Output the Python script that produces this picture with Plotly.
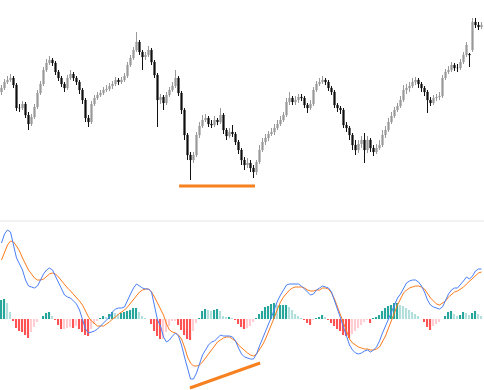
import plotly.graph_objects as go

# ---- price data (arbitrary price units) ----
opens = [108,112,118,120,122,115,92,92,96,85,76,83,93,107,116,130,137,140,137,128,
         122,116,112,122,126,122,118,110,100,82,78,96,102,105,107,110,111,114,116,120,
         118,120,124,135,142,150,158,148,143,145,150,138,125,100,103,97,105,110,114,122,
         107,90,65,45,40,45,65,74,80,82,76,75,80,78,85,70,64,68,66,58,
         50,40,35,37,32,28,38,50,58,62,66,68,72,76,80,85,98,102,98,100,
         103,102,95,92,96,110,116,118,120,118,112,108,95,92,90,75,72,65,55,50,
         56,60,50,60,52,48,52,55,65,70,78,84,90,94,100,110,112,114,118,120,
         116,112,108,100,97,102,103,104,122,128,130,135,132,132,138,145,146,150,178,175,173]
closes = [112,118,120,122,115,92,92,96,85,76,83,93,107,116,130,137,140,137,128,122,
          116,112,122,126,122,118,110,100,82,78,96,102,105,107,110,111,114,116,120,118,
          120,124,135,142,150,158,148,143,145,150,138,125,100,103,97,105,110,114,122,107,
          90,65,45,40,45,65,74,80,82,76,75,80,78,85,70,64,68,66,58,50,
          40,35,37,32,28,38,50,58,62,66,68,72,76,80,85,98,102,98,100,103,
          102,95,92,96,110,116,118,120,118,112,108,95,92,90,75,72,65,55,50,56,
          60,50,60,52,48,52,55,65,70,78,84,90,94,100,110,112,114,118,120,116,
          112,108,100,97,102,103,104,122,128,130,135,132,132,138,145,155,145,178,175,173,175]
highs = [115,121,124,126,124,117,96,99,98,88,86,96,110,119,133,141,144,142,139,130,
         124,118,125,130,128,124,120,112,102,85,99,105,108,110,113,115,117,119,123,122,
         123,127,138,145,153,168,160,150,148,154,152,140,127,106,105,108,113,118,130,124,
         109,92,67,48,48,68,78,85,86,84,80,84,82,92,87,72,72,75,68,60,
         52,43,42,40,35,40,55,62,66,69,72,76,80,84,88,102,108,104,104,106,
         106,104,97,100,113,119,122,124,122,120,114,110,97,94,92,78,74,67,60,60,
         64,67,64,62,55,56,60,70,74,82,88,93,97,104,115,116,118,122,123,122,
         118,114,110,103,105,106,108,125,131,134,138,137,136,141,148,158,147,182,182,178,178]
lows = [105,110,116,118,112,89,88,90,82,70,74,81,91,105,114,128,135,134,125,119,
        113,108,110,120,119,115,106,96,78,73,76,94,100,103,105,108,109,111,114,115,
        116,118,122,133,140,148,145,130,140,143,135,122,73,96,90,95,103,108,112,104,
        86,60,40,20,37,43,62,72,78,73,72,73,75,76,66,60,62,63,55,46,
        35,30,32,28,22,25,36,48,55,59,64,65,70,74,78,83,95,95,95,97,
        99,92,87,90,94,108,114,116,115,109,105,92,88,86,72,68,60,50,45,47,
        52,37,47,48,44,46,50,53,62,68,76,82,88,92,98,106,108,112,115,112,
        108,104,87,94,95,99,100,102,120,126,128,129,128,130,136,143,133,148,172,170,171]

# ---- MACD indicator values ----
macd = [76,85,89,87,74,61,55,49,39,33,32,31,33,39,45,49,51,49,43,37,
        30,24,22,21,18,15,9,0,-10,-14,-13,-12,-10,-7,-4,-1,2,7,10,11,
        11,12,19,25,31,35,33,31,30,30,27,13,-1,-7,-18,-23,-21,-17,-14,-17,
        -26,-38,-50,-60,-60,-54,-45,-36,-31,-26,-23,-22,-19,-16,-17,-17,-17,-18,-22,-29,
        -35,-38,-39,-40,-40,-35,-27,-19,-13,-5,2,11,18,24,29,34,35,35,35,35,
        33,30,27,24,25,29,31,33,32,31,27,19,10,1,-8,-17,-26,-31,-34,-35,
        -34,-32,-31,-33,-31,-28,-22,-14,-7,1,8,15,21,25,31,36,38,39,39,37,
        33,27,19,14,12,11,10,12,18,25,29,31,31,34,38,42,40,43,48,50,50]
signal = [59,67,74,78,77,73,68,61,55,49,45,41,39,39,40,43,45,46,45,42,
          38,35,31,28,25,22,18,14,8,2,-2,-5,-7,-7,-7,-5,-3,0,2,5,
          7,9,12,16,20,24,27,29,30,30,27,22,16,11,4,-5,-11,-13,-14,-16,
          -20,-28,-38,-44,-47,-47,-46,-43,-39,-35,-30,-26,-23,-21,-19,-18,-18,-20,-22,-26,
          -29,-32,-34,-36,-37,-35,-31,-26,-20,-13,-5,2,10,17,22,26,29,31,32,32,
          32,31,29,28,28,29,29,31,31,30,26,20,12,3,-6,-14,-20,-24,-26,-28,
          -29,-30,-30,-31,-31,-30,-28,-23,-17,-9,-1,6,14,20,26,29,31,32,33,33,
          32,30,25,21,18,15,14,16,18,22,25,27,28,30,32,35,38,41,44,46,47]
hist = [19,20,16,7,-2,-9,-12,-13,-16,-19,-13,-8,-3,0,3,6,7,3,-1,-6,
        -10,-10,-9,-8,-9,-7,-10,-13,-16,-17,-10,-5,-2,1,3,2,5,7,6,5,
        6,7,8,9,11,11,7,3,1,0,-5,-12,-17,-20,-20,-13,-7,-2,-2,-6,
        -11,-16,-20,-21,-12,-4,1,8,10,9,8,9,10,8,3,2,2,1,-1,-5,
        -8,-10,-9,-7,-3,1,5,8,12,13,15,16,14,14,14,14,12,9,5,3,
        1,-1,-4,-6,-1,1,2,4,2,-1,-4,-7,-10,-12,-16,-17,-19,-15,-12,-9,
        -6,-3,-1,-4,1,2,4,8,11,13,14,16,16,14,13,11,9,7,5,3,
        0,-3,-8,-11,-7,-5,-3,0,3,7,8,5,3,4,7,6,4,6,8,5,3]

# drawn annotations (index, value)
support_x = [59.2, 84.5]
support_y = [14, 14]
div_x = [62.8, 86.2]
div_y = [-69, -44]

n = len(closes)
idx = list(range(n))

# histogram colours (rising/falling shading)
hcol = []
for i, h in enumerate(hist):
    prev = hist[i - 1] if i > 0 else h
    if h >= 0:
        hcol.append("#26a69a" if h >= prev else "#b2dfdb")
    else:
        hcol.append("#ff5252" if h < prev else "#ffcdd2")

fig = go.Figure()
fig.add_trace(go.Candlestick(
    x=idx, open=opens, high=highs, low=lows, close=closes,
    increasing=dict(line=dict(color="#9a9a9a", width=1), fillcolor="#9a9a9a"),
    decreasing=dict(line=dict(color="#111111", width=1), fillcolor="#111111"),
    whiskerwidth=0, xaxis="x", yaxis="y", showlegend=False))
fig.add_trace(go.Scatter(x=support_x, y=support_y, mode="lines",
                         line=dict(color="#f7801f", width=3), xaxis="x", yaxis="y"))
fig.add_trace(go.Bar(x=idx, y=hist, marker=dict(color=hcol, line=dict(width=0)),
                     width=0.4, xaxis="x", yaxis="y2"))
fig.add_trace(go.Scatter(x=idx, y=signal, mode="lines",
                         line=dict(color="#ff7a1a", width=1), xaxis="x", yaxis="y2"))
fig.add_trace(go.Scatter(x=idx, y=macd, mode="lines",
                         line=dict(color="#4a7ef7", width=1), xaxis="x", yaxis="y2"))
fig.add_trace(go.Scatter(x=div_x, y=div_y, mode="lines",
                         line=dict(color="#f7801f", width=3), xaxis="x", yaxis="y2"))

split = 169 / 390
fig.update_layout(
    width=484, height=390, margin=dict(l=0, r=0, t=0, b=0),
    paper_bgcolor="white", plot_bgcolor="white", showlegend=False,
    boxgap=0.45,
    xaxis=dict(range=[-0.5, 160.833], visible=False, rangeslider=dict(visible=False),
               showgrid=False, zeroline=False),
    yaxis=dict(domain=[split, 1], range=[-21, 200], visible=False, showgrid=False, zeroline=False),
    yaxis2=dict(domain=[0, split], range=[-71, 98], visible=False, showgrid=False, zeroline=False),
    shapes=[dict(type="line", xref="paper", yref="paper", x0=0, x1=1, y0=split, y1=split,
                 line=dict(color="#e6e6e6", width=1))],
)
fig.write_html("out.html")
